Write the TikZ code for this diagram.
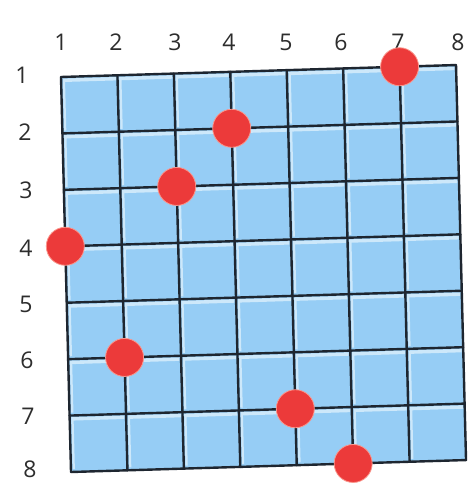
\documentclass[tikz,border=0pt]{standalone}
\usepackage{fontspec}
\setmainfont{Open Sans}
\definecolor{tile}{RGB}{150,205,245}
\definecolor{tilelight}{RGB}{205,232,250}
\definecolor{gridline}{RGB}{30,38,48}
\definecolor{dot}{RGB}{236,58,58}
\definecolor{dotrim}{RGB}{250,150,140}
\definecolor{numcol}{RGB}{45,45,45}
\tikzset{
  numlabel/.style={text=numcol, font=\fontsize{23}{23}\selectfont, inner sep=0pt},
  tilebox/.style={fill=tile},
  gridrule/.style={draw=gridline, line width=2.4pt, line cap=round},
  marker/.style={circle, fill=dot, draw=dotrim, line width=0.8pt, minimum size=38pt, inner sep=0pt},
}
\begin{document}
\begin{tikzpicture}[x=1pt,y=1pt]
\useasboundingbox[fill=white] (0,0) rectangle (469,-502);
% top labels
\foreach \n/\px in {1/61,2/116,3/175,4/229,5/286,6/341,7/398,8/458}
  \node[numlabel] (t\n) at (\px,-42) {\n};
% left labels
\foreach \n/\py/\px in {1/75/22,2/132/25,3/190/26,4/248/26,5/304/26,6/360/27,7/416/28,8/469/30}
  \node[numlabel] (l\n) at (\px,-\py) {\n};
\begin{scope}[shift={(61,-77)}, x={(56.43pt,1.71pt)}, y={(1.43pt,-56.43pt)}]
  % tiles
  \fill[tilebox] (0,0) -- (7,0) -- (7,7) -- (0,7) -- cycle;
  \foreach \i in {0,...,6}
    \foreach \j in {0,...,6} {
      \fill[tilelight] (\i+0.03,\j+0.03) -- (\i+0.97,\j+0.03) -- (\i+0.97,\j+0.09) -- (\i+0.07,\j+0.09) -- (\i+0.07,\j+0.95) -- (\i+0.03,\j+0.95) -- cycle;
    }
  % grid lines
  \foreach \k in {0,...,7} {
    \draw[gridrule] (\k,0) -- (\k,7);
    \draw[gridrule] (0,\k) -- (7,\k);
  }
  % dots
  \foreach \i/\j/\nm in {6/0/a,3/1/b,2/2/c,0/3/d,1/5/e,4/6/f,5/7/g}
    \node[marker] (\nm) at (\i,\j) {};
\end{scope}
\end{tikzpicture}
\end{document}
